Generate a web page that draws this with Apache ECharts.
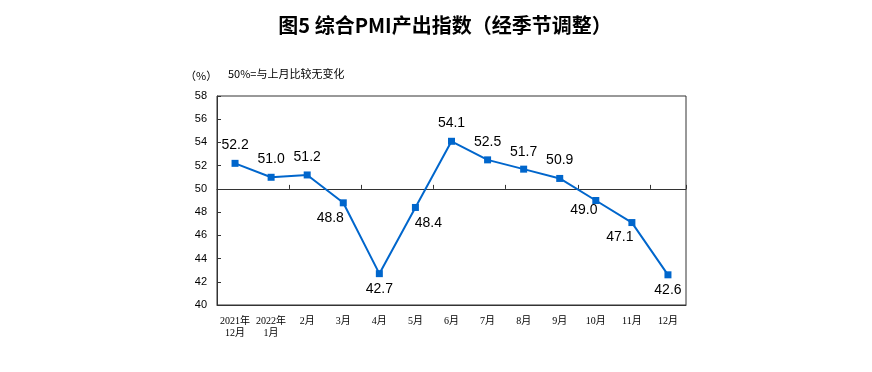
<!DOCTYPE html>
<html>
<head>
<meta charset="utf-8">
<script src="https://cdn.jsdelivr.net/npm/echarts@6/dist/echarts.min.js"></script>
<style>
html,body{margin:0;padding:0;background:#fff;}
#chart{width:872px;height:372px;}
</style>
</head>
<body>
<div id="chart"></div>
<script>
// ---- data ----
const categories = ['2021年\n12月', '2022年\n1月', '2月', '3月', '4月', '5月', '6月', '7月', '8月', '9月', '10月', '11月', '12月'];
const pmiOutput = [52.2, 51.0, 51.2, 48.8, 42.7, 48.4, 54.1, 52.5, 51.7, 50.9, 49.0, 47.1, 42.6];
const yTicks = { min: 40, max: 58, interval: 2 };
const baseline = 50;
const titleText = '图5 综合PMI产出指数（经季节调整）';
const unitText = '（%）';
const noteText = '50%=与上月比较无变化';

// ---- style: label offsets (label centre relative to point) ----
const labelOffsets = [
  [0, -18], [0, -18], [0, -18], [-13, 15], [0, 15], [13, 16], [0, -18],
  [0, -18], [0, -17], [0, -18], [-12, 10], [-12, 15], [0, 15]
];

const gridTop = 96, gridBottom = 67, gridLeft = 217, gridRight = 186;
const gridH = 372 - gridTop - gridBottom;
const baseOffset = -gridH * (baseline - yTicks.min) / (yTicks.max - yTicks.min);

const chart = echarts.init(document.getElementById('chart'), null, { renderer: 'canvas' });
const sansFont = 'Arial, "Liberation Sans", "Noto Sans CJK SC", sans-serif';
const serifFont = '"Times New Roman", "Liberation Serif", "Noto Sans CJK SC", serif';

chart.setOption({
  animation: false,
  backgroundColor: '#fff',
  graphic: [
    { type: 'text', x: 445, y: 15, style: { text: titleText, font: 'bold 20px "Noto Sans CJK SC", sans-serif', fill: '#000', textAlign: 'center' } },
    { type: 'text', x: 185, y: 70, style: { text: unitText, font: '11px "Noto Sans CJK SC", sans-serif', fill: '#000' } },
    { type: 'text', x: 228, y: 68, style: { text: noteText, font: '11px "Noto Sans CJK SC", sans-serif', fill: '#000' } }
  ],
  grid: {
    left: gridLeft, right: gridRight, top: gridTop, bottom: gridBottom,
    show: true, borderColor: '#333', borderWidth: 1, backgroundColor: 'transparent'
  },
  xAxis: [
    {
      type: 'category', data: categories, boundaryGap: true, position: 'bottom',
      axisLine: { show: true, lineStyle: { color: '#333', width: 1 } },
      axisTick: { show: false },
      axisLabel: { interval: 0, margin: 10, fontSize: 10, lineHeight: 12, color: '#000', fontFamily: serifFont }
    },
    {
      type: 'category', data: categories, boundaryGap: true, position: 'bottom', offset: baseOffset,
      axisLine: { show: true, lineStyle: { color: '#333', width: 1 } },
      axisTick: { show: true, inside: true, length: 4, lineStyle: { color: '#333' } },
      axisLabel: { show: false }
    }
  ],
  yAxis: {
    type: 'value', min: yTicks.min, max: yTicks.max, interval: yTicks.interval,
    axisLine: { show: true, lineStyle: { color: '#333', width: 1 } },
    axisTick: { show: true, inside: true, length: 4, lineStyle: { color: '#333' } },
    axisLabel: { margin: 10, fontSize: 11, color: '#000', fontFamily: sansFont },
    splitLine: { show: false }
  },
  series: [{
    type: 'line',
    data: pmiOutput.map((v, i) => ({
      value: v,
      label: { offset: labelOffsets[i] }
    })),
    symbol: 'rect', symbolSize: 7,
    itemStyle: { color: '#0066CC' },
    lineStyle: { color: '#0066CC', width: 2 },
    label: {
      show: true, position: 'inside',
      formatter: p => p.value.toFixed(1),
      fontSize: 14, color: '#000', fontFamily: sansFont
    },
    emphasis: { disabled: true }
  }]
});
</script>
</body>
</html>
